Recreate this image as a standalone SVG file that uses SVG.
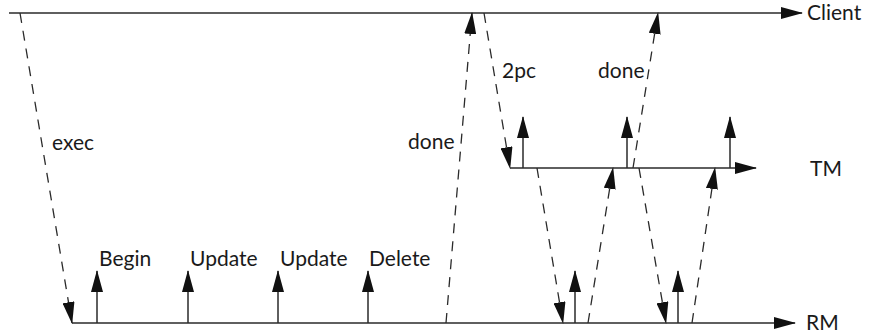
<svg xmlns="http://www.w3.org/2000/svg" width="869" height="333" viewBox="0 0 869 333">
<style>
.ln{stroke:#2a2a2a;stroke-width:1.5;fill:none}
.ds{stroke:#2a2a2a;stroke-width:1.3;fill:none;stroke-dasharray:10 8}
.t{font-family:Lato,"Liberation Sans",sans-serif;font-size:21px;fill:#1a1a1a}
</style>
<defs>
<marker id="ah" markerUnits="userSpaceOnUse" markerWidth="22" markerHeight="12" refX="21" refY="6" orient="auto" viewBox="0 0 22 12">
<path d="M0,0 L22,6 L0,12 z" fill="#111"/>
</marker>
</defs>
<rect width="869" height="333" fill="#fff"/>
<g id="client">
<line class="ln" x1="9" y1="13" x2="802" y2="13" marker-end="url(#ah)"/>
<text class="t" x="807" y="20">Client</text>
</g>
<g id="tm">
<line class="ln" x1="510" y1="168" x2="756" y2="168" marker-end="url(#ah)"/>
<text class="t" x="810" y="176">TM</text>
</g>
<g id="rm">
<line class="ln" x1="72" y1="323" x2="795" y2="323" marker-end="url(#ah)"/>
<text class="t" x="806" y="330">RM</text>
</g>
<g id="connectors">
<line class="ds" x1="20" y1="13" x2="72" y2="323" marker-end="url(#ah)"/>
<line class="ds" x1="446" y1="323" x2="472" y2="13" marker-end="url(#ah)"/>
<line class="ds" x1="484" y1="13" x2="510" y2="168" marker-end="url(#ah)"/>
<line class="ds" x1="633" y1="168" x2="658" y2="13" marker-end="url(#ah)"/>
<line class="ds" x1="537" y1="168" x2="563" y2="323" marker-end="url(#ah)"/>
<line class="ds" x1="588" y1="323" x2="613" y2="168" marker-end="url(#ah)"/>
<line class="ds" x1="639" y1="168" x2="666" y2="323" marker-end="url(#ah)"/>
<line class="ds" x1="692" y1="323" x2="715" y2="168" marker-end="url(#ah)"/>
<line class="ln" x1="97" y1="323" x2="97" y2="271" marker-end="url(#ah)"/>
<line class="ln" x1="188" y1="323" x2="188" y2="271" marker-end="url(#ah)"/>
<line class="ln" x1="278" y1="323" x2="278" y2="271" marker-end="url(#ah)"/>
<line class="ln" x1="368" y1="323" x2="368" y2="271" marker-end="url(#ah)"/>
<line class="ln" x1="575" y1="323" x2="575" y2="271" marker-end="url(#ah)"/>
<line class="ln" x1="678" y1="323" x2="678" y2="271" marker-end="url(#ah)"/>
<line class="ln" x1="523" y1="168" x2="523" y2="117" marker-end="url(#ah)"/>
<line class="ln" x1="627" y1="168" x2="627" y2="117" marker-end="url(#ah)"/>
<line class="ln" x1="730" y1="168" x2="730" y2="117" marker-end="url(#ah)"/>
<text class="t" x="52" y="150">exec</text>
<text class="t" x="408" y="149">done</text>
<text class="t" x="502" y="78">2pc</text>
<text class="t" x="598" y="78">done</text>
<text class="t" x="99" y="266">Begin</text>
<text class="t" x="190" y="266">Update</text>
<text class="t" x="280" y="266">Update</text>
<text class="t" x="369" y="266">Delete</text>
</g>
</svg>
